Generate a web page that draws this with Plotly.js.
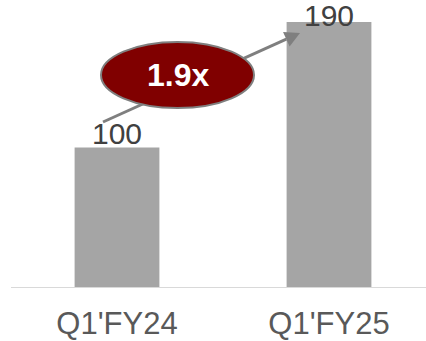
<!DOCTYPE html>
<html>
<head>
<meta charset="utf-8">
<script src="https://cdn.plot.ly/plotly-3.0.1.min.js"></script>
<style>html,body{margin:0;padding:0;background:#fff;}#chart{width:426px;height:341px;}</style>
</head>
<body>
<div id="chart"></div>
<script>
// Data
const categories = ["Q1'FY24", "Q1'FY25"];
const values = [100, 190];
const growthLabel = "1.9x";

// Layout geometry (pixels)
const W = 426, H = 341;
const M = {l: 11, r: 0, t: 0, b: 54};
const plotW = W - M.l - M.r, plotH = H - M.t - M.b;
// pixel -> paper helpers for decorations
const px = v => (v - M.l) / plotW;
const py = v => (H - M.b - v) / plotH;

const FONT = "'Liberation Sans', Arial, sans-serif";

const trace = {
  type: 'bar',
  x: categories,
  y: values,
  width: 0.4,
  marker: {color: '#a5a5a5'},
  hoverinfo: 'none'
};

// value labels
const labelShift = [0, -8];
const annotations = values.map((v, i) => ({
  x: categories[i], y: v, xref: 'x', yref: 'y',
  text: String(v), showarrow: false, borderpad: 0,
  yanchor: 'bottom', yshift: labelShift[i] - 3,
  font: {family: FONT, size: 30, color: '#404040'}
}));

// arrow geometry (pixels)
const start = [103, 122], tip = [300, 33];
const dx = tip[0] - start[0], dy = tip[1] - start[1];
const len = Math.hypot(dx, dy);
const ux = dx / len, uy = dy / len;
const headL = 15, headW = 8;
const base = [tip[0] - headL * ux, tip[1] - headL * uy];
const p1 = [base[0] - uy * headW, base[1] + ux * headW];
const p2 = [base[0] + uy * headW, base[1] - ux * headW];
const pt = p => `${px(p[0])},${py(p[1])}`;

const shapes = [
  {type: 'line', xref: 'paper', yref: 'paper', layer: 'above',
   x0: px(start[0]), y0: py(start[1]), x1: px(base[0]), y1: py(base[1]),
   line: {color: '#7f7f7f', width: 3}},
  {type: 'path', xref: 'paper', yref: 'paper', layer: 'above',
   path: `M${pt(tip)} L${pt(p1)} L${pt(p2)} Z`,
   fillcolor: '#7f7f7f', line: {width: 0}},
  {type: 'circle', xref: 'paper', yref: 'paper', layer: 'above',
   x0: px(101), x1: px(254), y0: py(108), y1: py(42),
   fillcolor: '#800000', line: {color: '#7f7f7f', width: 2}}
];

annotations.push({
  xref: 'paper', yref: 'paper', x: px(178), y: py(75),
  text: '<b>' + growthLabel + '</b>', showarrow: false,
  xanchor: 'center', yanchor: 'middle',
  font: {family: FONT, size: 32, color: '#ffffff'}
});

const layout = {
  width: W, height: H,
  margin: M,
  paper_bgcolor: '#ffffff', plot_bgcolor: '#ffffff',
  showlegend: false,
  bargap: 0.6,
  xaxis: {
    type: 'category',
    range: [-0.5, -0.5 + plotW / 212],
    showline: true, linecolor: '#d9d9d9', linewidth: 1,
    showgrid: false, zeroline: false, ticks: '',
    ticklabelstandoff: 9,
    tickfont: {family: FONT, size: 31, color: '#595959'},
    fixedrange: true
  },
  yaxis: {
    range: [0, plotH / 1.395],
    visible: false, showgrid: false, zeroline: false,
    fixedrange: true
  },
  shapes: shapes,
  annotations: annotations
};

Plotly.newPlot('chart', [trace], layout, {displayModeBar: false, staticPlot: true});
</script>
</body>
</html>
